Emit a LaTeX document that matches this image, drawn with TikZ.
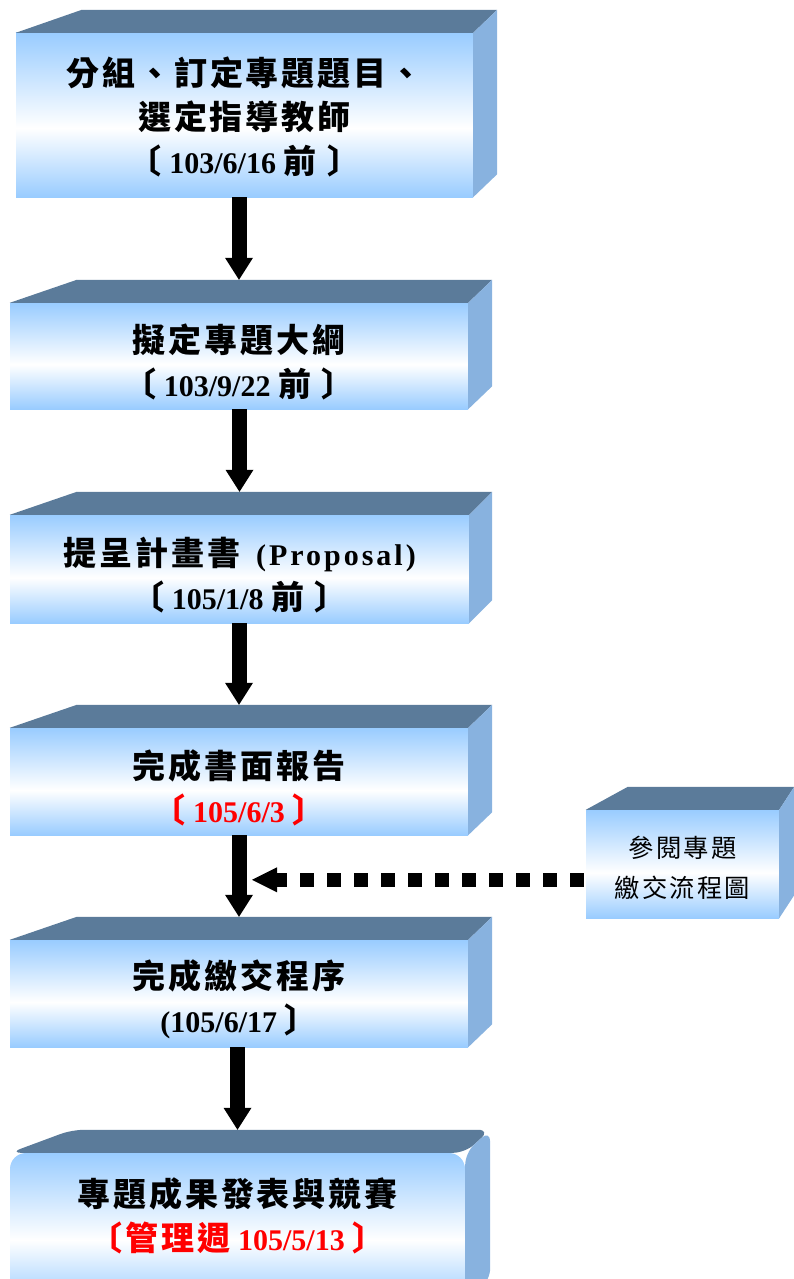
\documentclass[tikz,border=0pt]{standalone}
\usepackage{fontspec}
\setmainfont{Liberation Serif}
\newfontfamily\cjk[Scale=1.1,LetterSpace=9]{Noto Sans CJK TC}
\usetikzlibrary{arrows.meta,calc}

\definecolor{slabfront}{RGB}{153,204,255}
\definecolor{slabtopc}{RGB}{91,123,154}
\definecolor{slabsidec}{RGB}{136,178,223}
\pgfdeclareverticalshading{slabfade}{100bp}{color(0bp)=(slabfront); color(25bp)=(slabfront); color(46bp)=(white); color(75bp)=(slabfront); color(100bp)=(slabfront)}

\tikzset{
  slab/.style={shade, shading=slabfade, inner sep=0pt},
  slabtop/.style={fill=slabtopc},
  slabside/.style={fill=slabsidec},
  caption/.style={align=center, font=\bfseries\fontsize{30}{44}\selectfont},
  note/.style={align=center, font=\fontsize{23}{40}\selectfont},
  flow/.style={line width=15pt, -{Triangle[width=28pt,length=22pt,line width=0pt]}},
  dotflow/.style={line width=14pt, dash pattern=on 14pt off 13pt, dash phase=25pt,
    -{Triangle[width=25pt,length=25pt,line width=0pt]}},
}

% top and side faces of a box: node, slant of the left edge, depth
\newcommand\faces[4][]{%
  \fill[slabtop,#1] (#2.north west) -- ++(#3,-23) -- ($(#2.north east)+(#4,-23)$) -- (#2.north east) -- cycle;
  \fill[slabside,#1] (#2.north east) -- ++(#4,-23) -- ($(#2.south east)+(#4,-23)$) -- (#2.south east) -- cycle;
  \coordinate (#2-back) at ($(#2.north)+(0,-23)$);
}

\begin{document}
\begin{tikzpicture}[x=1pt,y=-1pt]
  \useasboundingbox (0,0) rectangle (794,1279);

  \node[slab, minimum width=457pt, minimum height=164pt] (topic) at (244.5,115) {};
  \faces{topic}{66}{24}
  \node[caption] (topic-txt) at ([yshift=-2pt]topic.center)
    {{\cjk 分組、訂定專題題目、}\\{\cjk 選定指導教師}\\{\cjk 〔} 103/6/16 {\cjk 前 〕}};

  \node[slab, minimum width=458pt, minimum height=106pt] (outline) at (239,356) {};
  \faces{outline}{67}{24}
  \node[caption] (outline-txt) at ([yshift=-6pt]outline.center)
    {{\cjk 擬定專題大綱}\\{\cjk 〔} 103/9/22 {\cjk 前 〕}};

  \node[slab, minimum width=459pt, minimum height=108pt] (proposal) at (239.5,569) {};
  \faces{proposal}{67}{23}
  \node[caption] (proposal-txt) at ([yshift=-6pt]proposal.center)
    {{\cjk 提呈計畫書}\hspace{16pt}{\addfontfeature{LetterSpace=10}(Proposal)}\\{\cjk 〔} 105/1/8 {\cjk 前 〕}};

  \node[slab, minimum width=458pt, minimum height=107pt] (report) at (239,781.5) {};
  \faces{report}{67}{24}
  \node[caption] (report-txt) at ([yshift=-6pt]report.center)
    {{\cjk 完成書面報告}\\\textcolor{red}{{\cjk 〔} 105/6/3 {\cjk 〕}}};

  \node[slab, minimum width=458pt, minimum height=107pt] (submit) at (239,993.5) {};
  \faces{submit}{67}{24}
  \node[caption] (submit-txt) at ([yshift=-6pt]submit.center)
    {{\cjk 完成繳交程序}\\(105/6/17 {\cjk 〕}};

  \node[slab, rounded corners=16pt, minimum width=455pt, minimum height=150pt] (expo) at (237.5,1228) {};
  \faces[rounded corners=12pt]{expo}{62}{25}
  \node[caption] (expo-txt) at ([yshift=12pt]expo.center)
    {{\cjk 專題成果發表與競賽}\\\textcolor{red}{{\cjk 〔管理週} 105/5/13 {\cjk 〕}}};

  \node[slab, minimum width=193pt, minimum height=108pt] (guide) at (682.5,864) {};
  \faces{guide}{42}{15}
  \node[note] (guide-txt) at ([yshift=-4pt]guide.center) {{\cjk 參閱專題}\\{\cjk 繳交流程圖}};

  \draw[flow] (topic.south -| outline-back) -- (outline-back);
  \draw[flow] (outline.south -| proposal-back) -- (proposal-back);
  \draw[flow] (proposal.south -| report-back) -- (report-back);
  \draw[flow] (report.south -| submit-back) -- (submit-back);
  \draw[flow] (submit.south -| expo-back) -- (expo-back);

  \coordinate (merge) at ($(submit-back)+(13,-37)$);
  \draw[dotflow] (guide.west |- merge) -- (merge);
\end{tikzpicture}
\end{document}
